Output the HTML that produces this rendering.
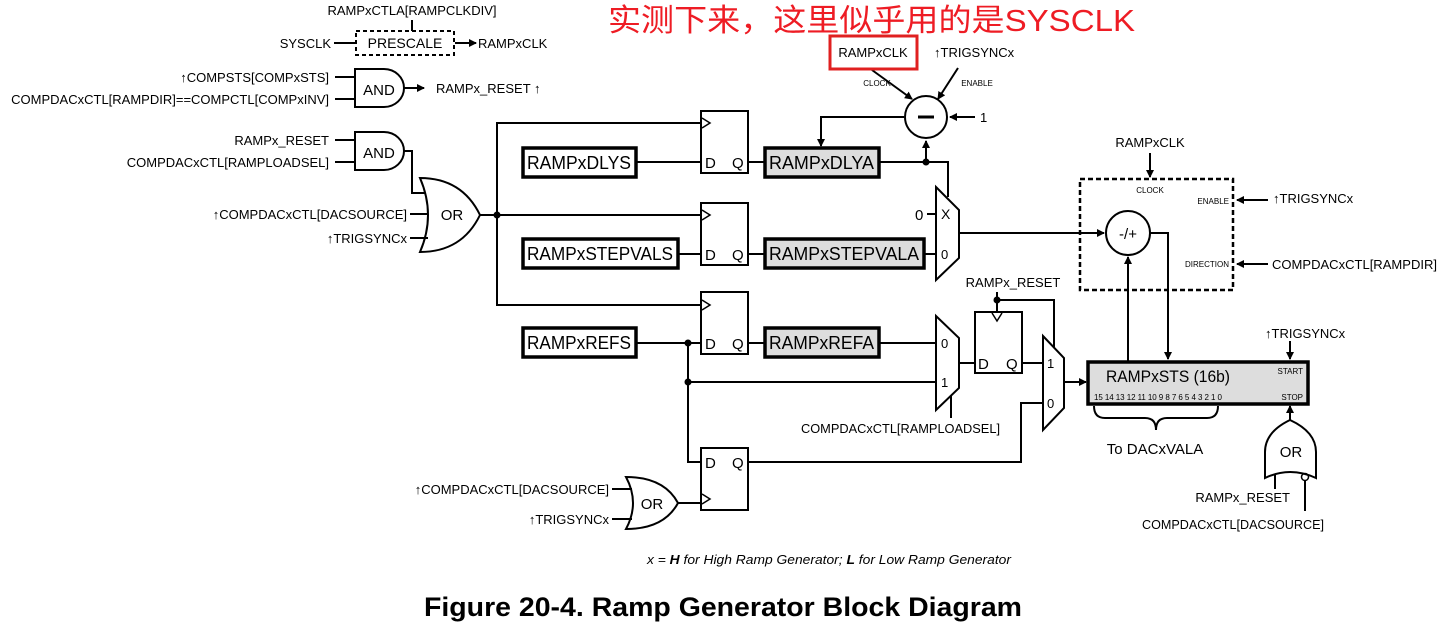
<!DOCTYPE html>
<html><head><meta charset="utf-8"><style>
html,body{margin:0;padding:0;background:#fff;}
svg{display:block;font-family:"Liberation Sans","Noto Sans CJK SC",sans-serif;}
.t{font-size:13px;fill:#000;}
.s{font-size:8px;fill:#000;}
.b{font-size:18px;fill:#000;}
</style></head><body>
<svg width="1452" height="638" viewBox="0 0 1452 638" xmlns="http://www.w3.org/2000/svg">
<defs>
<marker id="a" markerWidth="8" markerHeight="8" refX="7" refY="4" orient="auto" markerUnits="userSpaceOnUse"><path d="M0,0 L8,4 L0,8 Z" fill="#000"/></marker>
</defs>
<g stroke="#000" stroke-width="2" fill="none">
<line x1="412" y1="20" x2="412" y2="31"/>
<line x1="334" y1="43" x2="355" y2="43"/>
<rect x="356" y="31" width="98" height="24" stroke-dasharray="4,3"/>
<line x1="455" y1="43" x2="476" y2="43" marker-end="url(#a)"/>
<line x1="335" y1="77" x2="355" y2="77"/><line x1="335" y1="99" x2="355" y2="99"/>
<path d="M355,69 H384 A20,19 0 0 1 384,107 H355 Z"/>
<line x1="404" y1="88" x2="424" y2="88" marker-end="url(#a)"/>
<line x1="335" y1="140" x2="355" y2="140"/><line x1="335" y1="162" x2="355" y2="162"/>
<path d="M355,132 H384 A20,19 0 0 1 384,170 H355 Z"/>
<polyline points="404,151 412,151 412,193 425,193"/>
<line x1="410" y1="214" x2="428" y2="214"/><line x1="410" y1="238" x2="428" y2="238"/>
<path d="M420,178 Q462,178 480,215 Q462,252 420,252 Q436,215 420,178 Z"/>
<line x1="480" y1="215" x2="497" y2="215"/>
<polyline points="700,123 497,123 497,305 700,305"/>
<line x1="497" y1="215" x2="700" y2="215"/>
<rect x="701" y="111" width="47" height="62"/>
<rect x="701" y="203" width="47" height="62"/>
<rect x="701" y="292" width="47" height="62"/>
<rect x="701" y="448" width="47" height="62"/>
<rect x="975" y="312" width="47" height="61"/>
</g>
<g stroke="#000" stroke-width="1.5" fill="none">
<polyline points="702,118 710,123 702,128"/>
<polyline points="702,210 710,215 702,220"/>
<polyline points="702,300 710,305 702,310"/>
<polyline points="702,494 710,499 702,504"/>
<polyline points="992,313 997,321 1002,313"/>
</g>
<g stroke="#000" stroke-width="2" fill="none">
<line x1="636" y1="162" x2="701" y2="162"/>
<line x1="748" y1="162" x2="765" y2="162"/>
<line x1="678" y1="254" x2="701" y2="254"/>
<line x1="748" y1="254" x2="765" y2="254"/>
<line x1="636" y1="343" x2="701" y2="343"/>
<line x1="748" y1="343" x2="765" y2="343"/>
<polyline points="879,162 948,162 948,197"/>
<line x1="926" y1="162" x2="926" y2="141" marker-end="url(#a)"/>
<polyline points="904,117 821,117 821,146" marker-end="url(#a)"/>
<circle cx="926" cy="117" r="21"/>
<line x1="918" y1="117" x2="934" y2="117" stroke-width="3"/>
<line x1="975" y1="117" x2="950" y2="117" marker-end="url(#a)"/>
<line x1="872" y1="70" x2="912" y2="99" marker-end="url(#a)"/>
<line x1="958" y1="68" x2="938" y2="99" marker-end="url(#a)"/>
<path d="M936,187 L959,210 L959,258 L936,280 Z"/>
<line x1="927" y1="214" x2="936" y2="214"/>
<line x1="924" y1="254" x2="936" y2="254"/>
<line x1="959" y1="233" x2="1104" y2="233" marker-end="url(#a)"/>
<rect x="1080" y="179" width="153" height="111" stroke-dasharray="5,3" stroke-width="2.5"/>
<line x1="1150" y1="153" x2="1150" y2="177" marker-end="url(#a)"/>
<line x1="1268" y1="200" x2="1237" y2="200" marker-end="url(#a)"/>
<line x1="1268" y1="264" x2="1237" y2="264" marker-end="url(#a)"/>
<circle cx="1128" cy="233" r="22"/>
<polyline points="1150,233 1168,233 1168,359" marker-end="url(#a)"/>
<line x1="1128" y1="361" x2="1128" y2="257" marker-end="url(#a)"/>
<line x1="879" y1="343" x2="936" y2="343"/>
<path d="M936,316 L959,338 L959,388 L936,410 Z"/>
<line x1="688" y1="382" x2="936" y2="382"/>
<polyline points="688,343 688,462 701,462"/>
<line x1="951" y1="396" x2="951" y2="418"/>
<line x1="959" y1="363" x2="975" y2="363"/>
<line x1="1022" y1="363" x2="1043" y2="363"/>
<line x1="997" y1="292" x2="997" y2="312"/>
<polyline points="997,300 1054,300 1054,347"/>
<path d="M1043,336 L1064,358 L1064,408 L1043,430 Z"/>
<polyline points="748,462 1021,462 1021,403 1043,403"/>
<line x1="1064" y1="382" x2="1086" y2="382" marker-end="url(#a)"/>
<line x1="612" y1="489" x2="632" y2="489"/><line x1="612" y1="519" x2="632" y2="519"/>
<path d="M626,477 Q664,477 678,503 Q664,529 626,529 Q640,503 626,477 Z"/>
<line x1="678" y1="503" x2="701" y2="503"/>
<line x1="1290" y1="341" x2="1290" y2="359" marker-end="url(#a)"/>
<path d="M1265,478 L1265,452 Q1265,432 1290,420 Q1316,432 1316,452 L1316,478 Q1290,466 1265,478 Z"/>
<line x1="1290" y1="420" x2="1290" y2="406" marker-end="url(#a)"/>
<line x1="1275" y1="474" x2="1275" y2="489"/>
<circle cx="1305" cy="477" r="3.5" stroke-width="1.5"/>
<line x1="1305" y1="481" x2="1305" y2="511"/>
<path d="M1094,406 Q1094,418 1105,418 L1145,418 Q1156,418 1156,430 Q1156,418 1167,418 L1207,418 Q1218,418 1218,406"/>
</g>
<g stroke="#000" stroke-width="3.5">
<rect x="523" y="148" width="113" height="29" fill="#fff"/>
<rect x="765" y="148" width="114" height="29" fill="#ddd"/>
<rect x="523" y="239" width="155" height="29" fill="#fff"/>
<rect x="765" y="239" width="159" height="29" fill="#ddd"/>
<rect x="523" y="328" width="113" height="29" fill="#fff"/>
<rect x="765" y="328" width="114" height="29" fill="#ddd"/>
<rect x="1088" y="362" width="220" height="42" fill="#ddd"/>
</g>
<g fill="#000">
<circle cx="497" cy="215" r="3.5"/><circle cx="926" cy="162" r="3.5"/>
<circle cx="688" cy="343" r="3.5"/><circle cx="688" cy="382" r="3.5"/>
<circle cx="997" cy="300" r="3.5"/>
</g>
<rect x="830" y="36" width="87" height="33" fill="none" stroke="#e02020" stroke-width="3"/>
<text x="608" y="31" font-size="31" fill="#ee1c24" textLength="527" lengthAdjust="spacingAndGlyphs">实测下来，这里似乎用的是SYSCLK</text>
<g class="t">
<text x="412" y="15" text-anchor="middle">RAMPxCTLA[RAMPCLKDIV]</text>
<text x="331" y="48" text-anchor="end">SYSCLK</text>
<text x="405" y="48" text-anchor="middle" font-size="14">PRESCALE</text>
<text x="478" y="48">RAMPxCLK</text>
<text x="329" y="82" text-anchor="end">↑COMPSTS[COMPxSTS]</text>
<text x="329" y="104" text-anchor="end">COMPDACxCTL[RAMPDIR]==COMPCTL[COMPxINV]</text>
<text x="436" y="93">RAMPx_RESET ↑</text>
<text x="329" y="145" text-anchor="end">RAMPx_RESET</text>
<text x="329" y="167" text-anchor="end">COMPDACxCTL[RAMPLOADSEL]</text>
<text x="407" y="219" text-anchor="end">↑COMPDACxCTL[DACSOURCE]</text>
<text x="407" y="243" text-anchor="end">↑TRIGSYNCx</text>
<text x="873" y="57" text-anchor="middle">RAMPxCLK</text>
<text x="934" y="57">↑TRIGSYNCx</text>
<text x="980" y="122">1</text>
<text x="1150" y="147" text-anchor="middle">RAMPxCLK</text>
<text x="1273" y="203">↑TRIGSYNCx</text>
<text x="1272" y="269" textLength="165" lengthAdjust="spacingAndGlyphs">COMPDACxCTL[RAMPDIR]</text>
<text x="1013" y="287" text-anchor="middle">RAMPx_RESET</text>
<text x="801" y="433" textLength="199" lengthAdjust="spacingAndGlyphs">COMPDACxCTL[RAMPLOADSEL]</text>
<text x="1265" y="338">↑TRIGSYNCx</text>
<text x="1290" y="502" text-anchor="end">RAMPx_RESET</text>
<text x="1142" y="529" textLength="182" lengthAdjust="spacingAndGlyphs">COMPDACxCTL[DACSOURCE]</text>
<text x="609" y="494" text-anchor="end">↑COMPDACxCTL[DACSOURCE]</text>
<text x="609" y="524" text-anchor="end">↑TRIGSYNCx</text>
<text x="941" y="219" font-size="14">X</text>
<text x="941" y="259">0</text>
<text x="915" y="220" font-size="15">0</text>
<text x="941" y="348">0</text><text x="941" y="387">1</text>
<text x="1047" y="368">1</text><text x="1047" y="408">0</text>
</g>
<g font-size="15" fill="#000">
<text x="379" y="95" text-anchor="middle">AND</text>
<text x="379" y="158" text-anchor="middle">AND</text>
<text x="452" y="220" text-anchor="middle">OR</text>
<text x="652" y="509" text-anchor="middle">OR</text>
<text x="1291" y="457" text-anchor="middle">OR</text>
<text x="1128" y="239" text-anchor="middle">-/+</text>
<text x="705" y="168">D</text><text x="732" y="168">Q</text>
<text x="705" y="260">D</text><text x="732" y="260">Q</text>
<text x="705" y="349">D</text><text x="732" y="349">Q</text>
<text x="705" y="468">D</text><text x="732" y="468">Q</text>
<text x="978" y="369">D</text><text x="1006" y="369">Q</text>
<text x="1155" y="454" text-anchor="middle">To DACxVALA</text>
</g>
<g class="s">
<text x="877" y="86" text-anchor="middle">CLOCK</text>
<text x="977" y="86" text-anchor="middle">ENABLE</text>
<text x="1150" y="193" text-anchor="middle">CLOCK</text>
<text x="1229" y="204" text-anchor="end">ENABLE</text>
<text x="1229" y="267" text-anchor="end">DIRECTION</text>
<text x="1303" y="374" text-anchor="end">START</text>
<text x="1303" y="400" text-anchor="end">STOP</text>
<text x="1094" y="400" textLength="128" lengthAdjust="spacing">15 14 13 12 11 10 9 8 7 6 5 4 3 2 1 0</text>
</g>
<g class="b">
<text x="527" y="169" textLength="104" lengthAdjust="spacingAndGlyphs">RAMPxDLYS</text>
<text x="769" y="169" textLength="105" lengthAdjust="spacingAndGlyphs">RAMPxDLYA</text>
<text x="527" y="260" textLength="146" lengthAdjust="spacingAndGlyphs">RAMPxSTEPVALS</text>
<text x="769" y="260" textLength="150" lengthAdjust="spacingAndGlyphs">RAMPxSTEPVALA</text>
<text x="527" y="349" textLength="104" lengthAdjust="spacingAndGlyphs">RAMPxREFS</text>
<text x="769" y="349" textLength="105" lengthAdjust="spacingAndGlyphs">RAMPxREFA</text>
<text x="1106" y="382" font-size="17" textLength="124" lengthAdjust="spacingAndGlyphs">RAMPxSTS (16b)</text>
</g>
<text x="647" y="564" font-size="13" font-style="italic" textLength="364" lengthAdjust="spacingAndGlyphs">x = <tspan font-weight="bold">H</tspan> for High Ramp Generator; <tspan font-weight="bold">L</tspan> for Low Ramp Generator</text>
<text x="424" y="616" font-size="27" font-weight="bold" textLength="598" lengthAdjust="spacingAndGlyphs">Figure 20-4. Ramp Generator Block Diagram</text>
</svg>
</body></html>
